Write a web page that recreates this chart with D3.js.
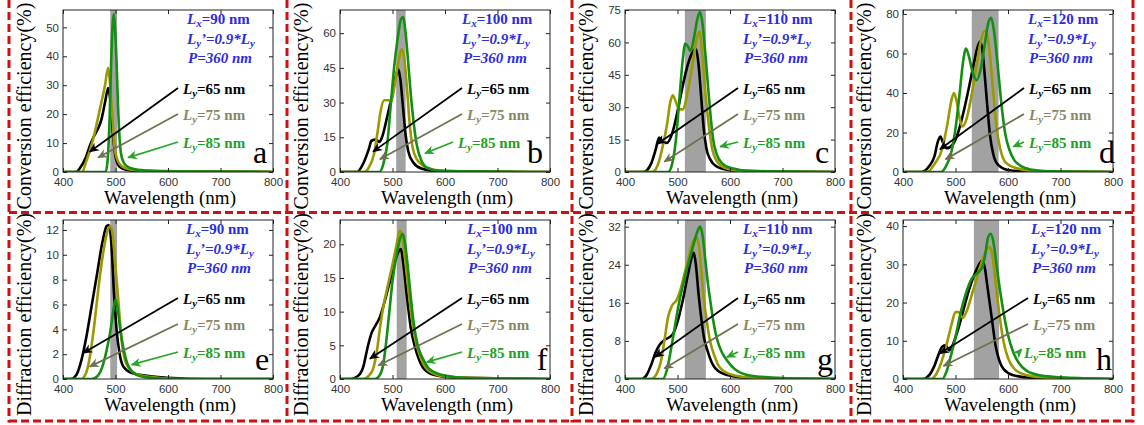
<!DOCTYPE html>
<html>
<head>
<meta charset="utf-8">
<script src="https://cdn.jsdelivr.net/npm/d3@7"></script>
<style>
  body { margin: 0; background: #fff; }
  svg { display: block; }
</style>
</head>
<body>
<script>
// values: [wavelength (nm), efficiency (%)]
const wavelengthTicks = [400, 500, 600, 700, 800];
const panelLetters = ['a', 'b', 'c', 'd', 'e', 'f', 'g', 'h'];
const lxValues = [90, 100, 110, 120, 90, 100, 110, 120];
const lyValues = [65, 75, 85];
const yTitles = ['Conversion efficiency(%)', 'Diffraction efficiency(%)'];
const yMaxes = [56, 70, 75, 82, 12.8, 23.6, 33.4, 41.6];
const yTickSteps = [10, 15, 15, 20, 2, 5, 8, 10];
const bands = [[490, 503], [507, 525], [514, 554], [531, 582], [490, 503], [508, 527], [514, 554], [535, 583]];

// conversion efficiency, top row
const convA65 = [[400,0],[425,0],[432,1.3],[444,5.3],[452,9.5],[458,12],[464,14],[473,18],[480,24],[486,29],[490,25],[495,13.4],[500,5.3],[508,1.8],[520,0.8],[545,0.3],[800,0]];
const convA75 = [[400,0],[436,0],[444,3.5],[457,11],[470,21.5],[480,30],[486,36],[489,32],[493,22],[498,8.8],[504,4],[512,2],[530,0.8],[560,0.3],[800,0]];
const convA85 = [[400,0],[481,0],[485,4],[489,20],[492,40],[495,52],[497,54.5],[499,50],[502,38],[505,22],[508,11],[512,5],[520,2.2],[535,1],[560,0.5],[590,0.2],[800,0]];

const convB65 = [[400,0],[432,0],[445,4],[455,10],[460,13.5],[468,14],[475,13],[480,15],[490,24],[500,34],[507,42],[511,44.5],[515,40],[520,28],[525,16],[530,9],[540,4],[555,1.5],[580,0.5],[800,0]];
const convB75 = [[400,0],[447,0],[455,2],[465,8],[472,18],[478,27],[484,31],[493,31],[497,30],[503,36],[510,46],[518,53],[523,48],[528,35],[533,20],[538,11],[545,6],[560,2.5],[580,1],[610,0.3],[800,0]];
const convB85 = [[400,0],[475,0],[482,3],[490,12],[497,30],[503,45],[510,58],[516,66],[520,67],[525,60],[530,47],[535,33],[540,22],[546,12],[555,5],[565,2],[590,0.5],[800,0]];

const convC65 = [[400,0],[435,0],[450,4],[458,10],[465,16],[472,14],[480,13.5],[490,18],[500,28],[510,40],[520,50],[530,56],[535,57],[540,50],[545,35],[550,20],[555,11],[562,6],[575,2.5],[600,0.8],[620,0.3],[800,0]];
const convC75 = [[400,0],[452,0],[462,3],[472,12],[480,22],[486,32],[491,35.5],[496,33],[503,29],[510,29],[520,38],[530,52],[537,62],[542,65],[547,55],[552,40],[558,25],[565,12],[575,5],[590,2],[620,0.5],[800,0]];
const convC85 = [[400,0],[482,0],[490,4],[497,15],[504,35],[510,52],[515,59.5],[520,58],[525,56],[532,63],[538,71],[543,74],[548,68],[553,55],[558,40],[563,26],[568,15],[575,8],[585,4],[600,2],[640,0.5],[800,0]];

const convD65 = [[400,0],[435,0],[450,3],[460,8],[466,15],[471,18],[476,15],[483,12],[495,14],[505,20],[515,30],[525,42],[535,55],[543,64],[547,66],[551,62],[556,48],[561,32],[566,18],[572,9],[580,4],[600,1],[640,0.2],[800,0]];
const convD75 = [[400,0],[446,0],[460,4],[475,12],[485,25],[492,36],[497,40],[502,36],[508,27],[513,23],[520,26],[530,38],[540,54],[548,66],[555,71.5],[560,70],[566,58],[572,40],[578,23],[585,12],[595,5],[615,2],[650,0.5],[800,0]];
const convD85 = [[400,0],[472,0],[482,3],[492,10],[500,22],[508,40],[514,55],[520,62.5],[526,58],[533,50],[540,46.5],[548,52],[556,65],[563,76],[568,78],[573,72],[580,55],[588,33],[595,19],[603,11],[612,6],[625,3],[650,1],[690,0.3],[800,0]];

// diffraction efficiency, bottom row
const diffE65 = [[400,0],[415,0],[425,0.3],[435,1.5],[445,3.5],[455,6],[465,8.5],[475,11],[483,12.3],[487,12.4],[492,11],[497,7],[502,4],[508,2],[515,1],[530,0.5],[560,0.25],[600,0.1],[680,0],[800,0]];
const diffE75 = [[400,0],[435,0],[445,0.6],[452,2],[460,4.5],[468,7.5],[476,10],[484,11.8],[490,12.3],[494,11.8],[500,9],[506,6],[512,3],[520,1.3],[535,0.5],[560,0.2],[620,0],[800,0]];
const diffE85 = [[400,0],[455,0],[465,0.2],[475,1],[483,2.3],[490,3.8],[495,5.3],[500,6.4],[504,5.7],[509,4],[515,2.5],[522,1.3],[532,0.6],[550,0.2],[600,0],[800,0]];

const diffF65 = [[400,0],[420,0],[435,0.5],[445,2],[452,4.5],[460,6.8],[468,8],[475,9],[485,11.5],[495,14.5],[505,17.5],[512,19],[516,19.3],[520,17.5],[525,14],[530,10.5],[535,7.5],[542,5],[550,3],[560,1.5],[580,0.6],[620,0.2],[800,0]];
const diffF75 = [[400,0],[444,0],[455,0.5],[463,1.5],[470,4],[476,7.5],[482,10.5],[490,13.5],[500,17],[508,20],[514,22],[518,21.5],[523,18.5],[530,13.5],[536,9.5],[543,6],[552,3.5],[565,1.5],[590,0.5],[630,0.2],[800,0]];
const diffF85 = [[400,0],[466,0],[475,0.5],[482,2],[488,5.5],[494,10],[500,14.5],[508,18.5],[515,21],[520,21.5],[525,19.5],[530,16],[535,12],[540,8.5],[548,5],[558,3],[570,1.5],[600,0.5],[650,0.1],[800,0]];

const diffG65 = [[400,0],[432,0],[442,1],[450,3],[458,5.5],[466,7.2],[475,8.2],[485,8.8],[492,9.6],[500,12],[510,16.5],[520,22],[527,25.5],[531,26.5],[535,24],[540,18],[545,13],[550,9],[557,6],[565,3.5],[580,1.5],[610,0.5],[660,0.1],[800,0]];
const diffG75 = [[400,0],[450,0],[460,1],[468,3.5],[475,8],[482,13],[490,15.5],[498,16.5],[505,18.5],[512,21.5],[520,25],[528,28.5],[535,29.8],[540,28.5],[545,23],[550,17],[556,12],[562,8],[570,5],[580,2.5],[600,1],[640,0.3],[800,0]];
const diffG85 = [[400,0],[472,0],[480,2],[488,6.5],[495,11],[502,15.5],[510,19.5],[520,24],[530,28],[538,31],[543,32],[548,30],[553,25],[558,20],[563,16],[568,12.3],[575,8.5],[585,5.5],[595,3.8],[610,2],[640,0.7],[700,0.2],[800,0]];

const diffH65 = [[400,0],[438,0],[450,1],[460,3.5],[468,6.5],[475,8.5],[481,8.8],[488,7.5],[495,9],[505,13],[515,18],[525,23],[535,27],[545,30],[551,31],[556,29],[560,25],[565,20],[570,15],[576,9],[583,5],[592,2.5],[610,1],[650,0.3],[800,0]];
const diffH75 = [[400,0],[453,0],[462,1],[472,4],[482,8.5],[492,14],[500,17.5],[506,17.5],[514,16],[522,18],[532,22.5],[542,27],[552,31.5],[560,34],[565,34.5],[570,32.5],[575,27],[580,21],[586,14.5],[592,9.5],[600,5.5],[610,3],[630,1.2],[680,0.3],[800,0]];
const diffH85 = [[400,0],[475,0],[483,2],[492,6.5],[500,11],[510,17.5],[520,22.5],[530,26],[540,27.5],[550,29],[556,32],[562,37],[567,38],[572,36],[578,30],[585,23],[592,17],[600,11.5],[610,7],[620,4.3],[635,2.2],[660,1],[720,0.3],[800,0]];

// where each arrow points on its curve
const arrowHeads65 = [[451,7],[463,8.8],[461.5,13],[470.5,11.5],[438.7,2.1],[457,3],[457,4.6],[470.5,6.7]];
const arrowHeads75 = [[467,5],[476,5.5],[475,4.8],[481,6.4],[451,1.0],[473,2],[475,2.2],[477,3.4]];
const arrowHeads85 = [[524,5],[562,8.1],[581,11.7],[610,12.8],[531,1.15],[565,2.5],[594,4.6],[626,7.8]];

const curves = [
  [convA65, convA75, convA85], [convB65, convB75, convB85],
  [convC65, convC75, convC85], [convD65, convD75, convD85],
  [diffE65, diffE75, diffE85], [diffF65, diffF75, diffF85],
  [diffG65, diffG75, diffG85], [diffH65, diffH75, diffH85]
];
const arrowHeads = [arrowHeads65, arrowHeads75, arrowHeads85];

// layout
const width = 1144, height = 425;
const colLeft = [63, 340, 625, 903];
const plotW = 210;
const rowTop = [10, 220], rowBottom = [172, 379];
const infoX = [124, 122, 118, 125, 123, 127, 118, 128];
const lyX = [120, 127, 118, 126, 120, 127, 118, 130];
const ly85Shift = [0, -9, 0, 0, 0, 0, 0, -9];
const letterDx = [13, 15, 13, 6, 11, 8, 10, 9];
const lineColors = ['#000000', '#9a9a00', '#138f13'];
const labelColors = ['#000000', '#8a8660', '#22a022'];
const arrowColors = ['#000000', '#707052', '#2aa52a'];
const blue = '#2b2be0';
const serif = '"Liberation Serif", "Times New Roman", serif';
const sans = '"Liberation Sans", Arial, sans-serif';

const svg = d3.select('body').append('svg')
  .attr('width', width)
  .attr('height', height);

const defs = svg.append('defs');
arrowColors.forEach((c, i) => {
  defs.append('marker')
    .attr('id', 'head' + i)
    .attr('viewBox', '0 -5 10 10')
    .attr('refX', 9).attr('refY', 0)
    .attr('markerUnits', 'userSpaceOnUse')
    .attr('markerWidth', 10).attr('markerHeight', 10)
    .attr('orient', 'auto')
    .append('path')
    .attr('d', 'M0,-4.5L10,0L0,4.5L3,0Z')
    .attr('fill', c);
});

// "L" + subscript + rest
function subLabel(text, sub, rest, subSize) {
  text.append('tspan').attr('font-style', 'italic').text('L');
  text.append('tspan').attr('font-style', 'italic').attr('font-size', subSize).attr('dy', 3).text(sub);
  text.append('tspan').attr('dy', -3).text(rest);
}

panelLetters.forEach((letter, p) => {
  const col = p % 4, row = Math.floor(p / 4);
  const left = colLeft[col], top = rowTop[row], bottom = rowBottom[row];
  const x = d3.scaleLinear().domain([400, 800]).range([left, left + plotW]);
  const y = d3.scaleLinear().domain([0, yMaxes[p]]).range([bottom, top]);
  const yTicks = d3.range(0, yMaxes[p] + 1e-9, yTickSteps[p]);

  const g = svg.append('g');
  const clipId = 'clip' + p;
  defs.append('clipPath').attr('id', clipId)
    .append('rect')
    .attr('x', left).attr('y', top)
    .attr('width', plotW).attr('height', bottom - top);

  // gray resonance band
  g.append('rect')
    .attr('x', x(bands[p][0]))
    .attr('y', top)
    .attr('width', x(bands[p][1]) - x(bands[p][0]))
    .attr('height', bottom - top)
    .attr('fill', '#a2a2a2');

  const line = d3.line()
    .x(d => x(d[0]))
    .y(d => y(d[1]))
    .curve(d3.curveMonotoneX);

  g.append('g').attr('clip-path', `url(#${clipId})`)
    .selectAll('path')
    .data(curves[p])
    .join('path')
    .attr('d', line)
    .attr('fill', 'none')
    .attr('stroke', (d, i) => lineColors[i])
    .attr('stroke-width', 2.6)
    .attr('stroke-linejoin', 'round');

  // frame with inward ticks on all four sides
  const bottomAxis = d3.axisBottom(x).tickValues(wavelengthTicks)
    .tickSizeInner(-4).tickSizeOuter(0).tickPadding(6);
  const leftAxis = d3.axisLeft(y).tickValues(yTicks)
    .tickSizeInner(-4).tickSizeOuter(0).tickPadding(4);
  const topAxis = d3.axisTop(x).tickValues(wavelengthTicks)
    .tickSizeInner(-4).tickSizeOuter(0).tickFormat('');
  const rightAxis = d3.axisRight(y).tickValues(yTicks)
    .tickSizeInner(-4).tickSizeOuter(0).tickFormat('');

  const axes = [
    g.append('g').attr('transform', `translate(0,${bottom})`).call(bottomAxis),
    g.append('g').attr('transform', `translate(${left},0)`).call(leftAxis),
    g.append('g').attr('transform', `translate(0,${top})`).call(topAxis),
    g.append('g').attr('transform', `translate(${left + plotW},0)`).call(rightAxis)
  ];
  axes.forEach(a => {
    a.select('.domain').remove();
    a.selectAll('line').attr('stroke', '#222');
    a.selectAll('text')
      .attr('font-family', sans)
      .attr('font-size', 11.5)
      .attr('fill', '#333');
  });

  g.append('rect')
    .attr('x', left).attr('y', top)
    .attr('width', plotW).attr('height', bottom - top)
    .attr('fill', 'none')
    .attr('stroke', '#222')
    .attr('stroke-width', 1);

  // axis titles
  g.append('text')
    .attr('transform', `translate(${left - 32},${(top + bottom) / 2 + 15}) rotate(-90)`)
    .attr('text-anchor', 'middle')
    .attr('font-family', serif)
    .attr('font-size', 20)
    .text(yTitles[row]);

  g.append('text')
    .attr('x', left + plotW / 2 + 2)
    .attr('y', bottom + 32)
    .attr('text-anchor', 'middle')
    .attr('font-family', serif)
    .attr('font-size', 19)
    .text('Wavelength (nm)');

  // parameter block (blue)
  const info = g.append('g')
    .attr('font-family', serif)
    .attr('font-size', 15)
    .attr('font-weight', 'bold')
    .attr('fill', blue);
  const ix = left + infoX[p];
  subLabel(info.append('text').attr('x', ix).attr('y', top + 14), 'x', `=${lxValues[p]} nm`, 11);
  const t2 = info.append('text').attr('x', ix).attr('y', top + 34).attr('font-style', 'italic');
  subLabel(t2, 'y', '\u2019=0.9*L', 11);
  t2.append('tspan').attr('font-size', 11).attr('dy', 3).text('y');
  info.append('text').attr('x', ix + 1).attr('y', top + 53)
    .attr('font-style', 'italic').text('P=360 nm');

  // Ly labels with arrows to their curves
  const lyBase = [84, 110, 138];
  lyValues.forEach((ly, i) => {
    const tx = left + lyX[p] + (i === 2 ? ly85Shift[p] : 0);
    const ty = top + lyBase[i];
    const head = arrowHeads[i][p];
    g.append('line')
      .attr('x1', tx - 5).attr('y1', ty - 6)
      .attr('x2', x(head[0])).attr('y2', y(head[1]))
      .attr('stroke', arrowColors[i])
      .attr('stroke-width', 1.8)
      .attr('marker-end', `url(#head${i})`);
    const t = g.append('text')
      .attr('x', tx).attr('y', ty)
      .attr('font-family', serif)
      .attr('font-size', 15)
      .attr('font-weight', 'bold')
      .attr('fill', labelColors[i]);
    subLabel(t, 'y', `=${ly} nm`, 11);
  });

  // panel letter
  g.append('text')
    .attr('x', left + plotW - letterDx[p])
    .attr('y', bottom - 9)
    .attr('text-anchor', 'middle')
    .attr('font-family', serif)
    .attr('font-size', 32)
    .text(letter);
});

// red dashed panel dividers
const borderX = [9, 287, 572, 851, 1133];
const borderY = [212.5, 421];
const border = svg.append('g')
  .attr('stroke', '#cc1111')
  .attr('stroke-width', 3)
  .attr('stroke-dasharray', '8,4')
  .attr('fill', 'none');
borderX.forEach(bx => border.append('line')
  .attr('x1', bx).attr('x2', bx).attr('y1', 0).attr('y2', 422.5));
borderY.forEach(by => border.append('line')
  .attr('x1', 9).attr('x2', 1134.5).attr('y1', by).attr('y2', by));
</script>
</body>
</html>
